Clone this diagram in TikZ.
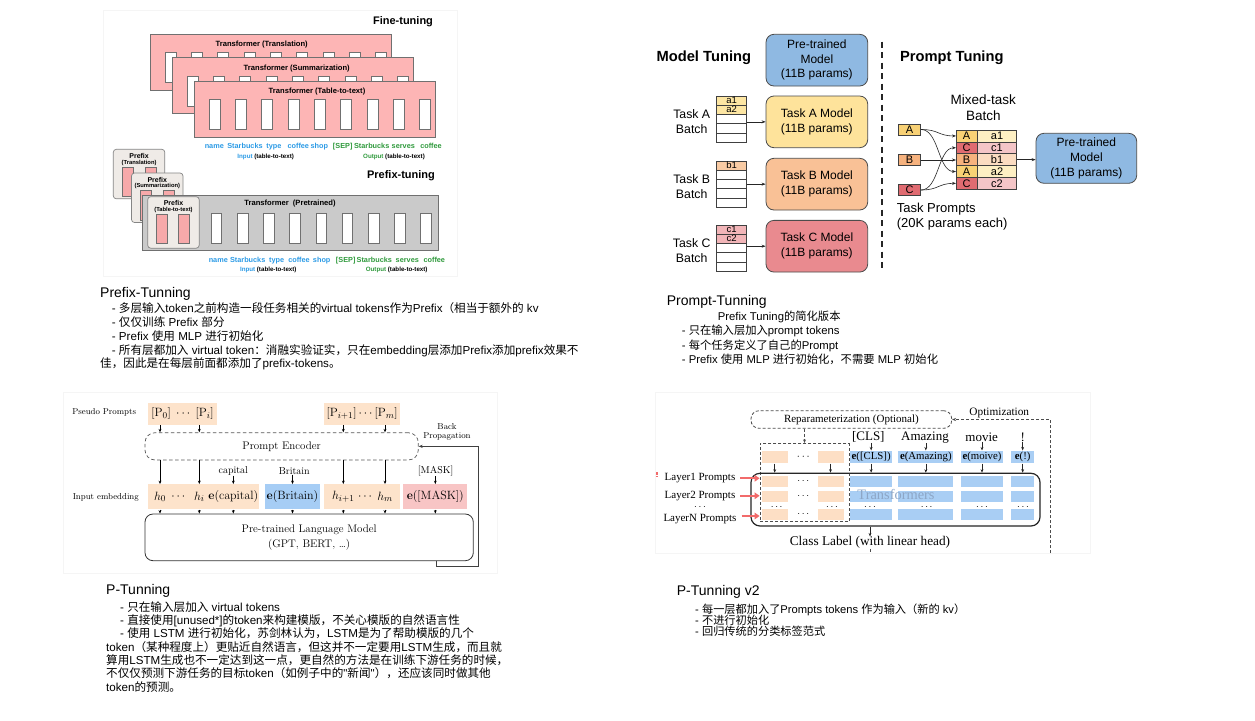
\documentclass[tikz,border=0pt]{standalone}
\usepackage[no-math]{fontspec}
\setsansfont{Liberation Sans}
\newfontfamily\latinfont{Liberation Sans}
\newfontfamily\cjkfont{Noto Sans CJK SC}
\newfontfamily\timesfont{Liberation Serif}
\usetikzlibrary{arrows.meta}

\newcount\cjkc
\newXeTeXintercharclass\mycjk
\def\setcjkrange#1#2{\cjkc=#1\relax
  \loop\XeTeXcharclass\cjkc=\mycjk\relax
  \ifnum\cjkc<#2\relax\advance\cjkc by 1\relax\repeat}
\setcjkrange{"3000}{"303F}
\setcjkrange{"4E00}{"9FFF}
\setcjkrange{"FF00}{"FFEF}
\XeTeXinterchartoks 0 \mycjk = {\cjkfont}
\XeTeXinterchartoks 4095 \mycjk = {\cjkfont}
\XeTeXinterchartoks \mycjk 0 = {\latinfont}
\XeTeXinterchartoks \mycjk 4095 = {\latinfont}
\XeTeXinterchartokenstate=1

\definecolor{pfpink}{HTML}{FDB5B5}
\definecolor{pfborder}{HTML}{707070}
\definecolor{pfgray}{HTML}{CACACA}
\definecolor{pfbeige}{HTML}{EFEBE7}
\definecolor{pfslot}{HTML}{F7A9AA}
\definecolor{wblue}{HTML}{2C9BE6}
\definecolor{wgreen}{HTML}{2F9A3C}
\definecolor{mblue}{HTML}{8FB9E2}
\definecolor{myel}{HTML}{FEE39B}
\definecolor{mora}{HTML}{F9C196}
\definecolor{mred}{HTML}{E98A8F}
\definecolor{rowA}{HTML}{FDE6A3}
\definecolor{rowB}{HTML}{F9CBA4}
\definecolor{rowC}{HTML}{F2B5B8}
\definecolor{kA}{HTML}{F8D175}
\definecolor{kB}{HTML}{F6B27E}
\definecolor{kC}{HTML}{E06B71}
\definecolor{lA}{HTML}{FDEFC3}
\definecolor{lB}{HTML}{FBDCC1}
\definecolor{lC}{HTML}{F4C5C7}
\definecolor{porange}{HTML}{FDE3CB}
\definecolor{pblue}{HTML}{A6CDF5}
\definecolor{ppink}{HTML}{F8C5C5}
\definecolor{vorange}{HTML}{FDDFC5}
\definecolor{vblue}{HTML}{A9CEF4}
\definecolor{vred}{HTML}{F26B6B}
\definecolor{vtext}{HTML}{8DA6C6}

\tikzset{
  frame/.style={draw=black!4, line width=.5pt},
  pfbold/.style={font=\sffamily\bfseries\fontsize{#1}{#1}\selectfont, inner sep=0},
  wordb/.style={font=\sffamily\bfseries\fontsize{#1}{#1}\selectfont, inner sep=0, anchor=base},
  mbox/.style={draw=black!70, line width=.8pt, rounded corners=8pt, minimum width=101.7pt,
     minimum height=51.7pt, align=center, font=\sffamily\fontsize{12}{15}\selectfont, inner sep=0},
  arr/.style={-{Stealth[length=4pt,width=3pt]}, line width=.6pt, black!85},
  cellL/.style={draw=black!75, line width=.6pt, minimum width=21.3pt, minimum height=11.86pt,
     inner sep=0, outer sep=0, font=\sffamily\fontsize{11}{11}\selectfont},
  cellR/.style={cellL, minimum width=39.4pt},
  pbx/.style={draw=black!75, line width=.6pt, minimum width=22.4pt, minimum height=11.3pt,
     inner sep=0, font=\sffamily\fontsize{11}{11}\selectfont},
  lmtext/.style={font=\rmfamily\fontsize{#1}{#1}\selectfont, inner sep=0},
  parr/.style={-{Stealth[length=3.5pt,width=2.8pt]}, line width=.6pt, black},
  tmtext/.style={font=\timesfont\fontsize{#1}{#1}\selectfont, inner sep=0},
  vdash/.style={dashed, dash pattern=on 3pt off 2pt, line width=.8pt, black!70},
  varr/.style={-{Stealth[length=3.5pt,width=2.8pt]}, line width=.6pt, black!85},
  redarr/.style={-{Triangle[length=5pt,width=6.5pt]}, line width=2.2pt, vred},
  txt/.style={anchor=base west, inner sep=0, font=\latinfont\fontsize{#1}{#1}\selectfont},
  ttl/.style={anchor=base west, inner sep=0, font=\latinfont\fontsize{14}{14}\selectfont},
}

\begin{document}
\begin{tikzpicture}[x=1pt,y=-1pt]
\path[use as bounding box, fill=white] (0,0) rectangle (1255,720);

% ================= Panel 1: Prefix-tuning =================
\draw[frame] (103,10) rectangle (457,276);
\node[pfbold=11] (ftt) at (403,22) {Fine-tuning};
\foreach \dx/\dy/\tx/\ty/\lab [count=\k] in {0/0/261.7/44.3/Translation, 22/23.5/296.7/68.3/Summarization, 44/47/317/91.7/Table-to-text}{
  \draw[pfborder, fill=pfpink, line width=.7pt] (150+\dx,34+\dy) rectangle ++(241,56);
  \node[pfbold=7.6] (tt\k) at (\tx,\ty) {Transformer (\lab)};
  \foreach \i in {0,...,8}
    \draw[pfborder, fill=white, line width=.6pt] (165+\dx+26.3*\i,52.3+\dy) rectangle ++(11,30);
}
\foreach \x/\w/\c [count=\k] in {214.3/name/wblue,245/Starbucks/wblue,274/type/wblue,298.3/coffee/wblue,319.3/shop/wblue,342.7/{[SEP]}/wgreen,371.7/Starbucks/wgreen,403.3/serves/wgreen,431/coffee/wgreen}
  \node[wordb=7.3, text=\c] (wa\k) at (\x,148.6) {\w};
\node[wordb=6.2] (inA) at (265.7,158.9) {\textcolor{wblue}{Input} (table-to-text)};
\node[wordb=6.2] (outA) at (394,158.9) {\textcolor{wgreen}{Output} (table-to-text)};
\node[pfbold=11] (ptt) at (401,176) {Prefix-tuning};

% prefix boxes 1 and 2
\foreach \px/\py/\lab [count=\k] in {113.3/149.3/Translation, 131.5/173/Summarization}{
  \draw[pfborder!85, fill=pfbeige, rounded corners=3pt, line width=.7pt] (\px,\py) rectangle ++(51.5,49.5);
  \draw[pfborder, fill=pfslot, line width=.5pt] (\px+9.2,\py+17.5) rectangle ++(11,29.5);
  \draw[pfborder, fill=pfslot, line width=.5pt] (\px+31.5,\py+17.5) rectangle ++(11,29.5);
  \node[pfbold=7] (pf\k) at (\px+25.8,\py+6.5) {Prefix};
  \node[pfbold=5.8] (pfs\k) at (\px+25.8,\py+13.3) {(\lab)};
}
% pretrained transformer
\draw[pfborder, fill=pfgray, line width=.7pt] (142.7,195) rectangle (438.3,250.7);
\node[pfbold=7.6] (ttp) at (290,204) {Transformer\ \ (Pretrained)};
\foreach \i in {0,...,8}
  \draw[pfborder, fill=white, line width=.6pt] (211+26.2*\i,213.3) rectangle ++(10.7,30);
% prefix box 3
\draw[pfborder!85, fill=pfbeige, rounded corners=3pt, line width=.7pt] (147.7,196.7) rectangle ++(51.5,51.5);
\draw[pfborder, fill=pfslot, line width=.5pt] (156.7,214) rectangle ++(11,29.3);
\draw[pfborder, fill=pfslot, line width=.5pt] (178.3,214) rectangle ++(11,29.3);
\node[pfbold=7] (pf3) at (173.5,202.7) {Prefix};
\node[pfbold=5.8] (pfs3) at (173.5,209.5) {(Table-to-text)};

\foreach \x/\w/\c [count=\k] in {218.3/name/wblue,247.7/Starbucks/wblue,276.7/type/wblue,299/coffee/wblue,321.7/shop/wblue,345.7/{[SEP]}/wgreen,374.3/Starbucks/wgreen,407.3/serves/wgreen,434.3/coffee/wgreen}
  \node[wordb=7.3, text=\c] (wb\k) at (\x,262.6) {\w};
\node[wordb=6.2] (inB) at (268.3,271.5) {\textcolor{wblue}{Input} (table-to-text)};
\node[wordb=6.2] (outB) at (396.7,271.5) {\textcolor{wgreen}{Output} (table-to-text)};

% ================= Text block 1 =================
\node[ttl] (t1) at (100,297.7) {Prefix-Tunning};
\node[txt=11.6] (t1a) at (111.7,312.7) {- 多层输入token之前构造一段任务相关的virtual tokens作为Prefix（相当于额外的 kv};
\node[txt=11.6] (t1b) at (111.7,326.7) {- 仅仅训练 Prefix 部分};
\node[txt=11.6] (t1c) at (111.7,340.4) {- Prefix 使用 MLP 进行初始化};
\node[txt=11.6] (t1d) at (111.7,354.4) {- 所有层都加入 virtual token：消融实验证实，只在embedding层添加Prefix添加prefix效果不};
\node[txt=11.6] (t1e) at (100,367.7) {佳，因此是在每层前面都添加了prefix-tokens。};

% ================= Panel 2: Prompt tuning =================
\node[font=\sffamily\bfseries\fontsize{14.7}{15}\selectfont, inner sep=0] (mtt) at (703.8,57.3) {Model Tuning};
\node[font=\sffamily\bfseries\fontsize{14.7}{15}\selectfont, inner sep=0] (prt) at (951.8,57.3) {Prompt Tuning};
\coordinate (dl1) at (882.3,41.7);
\coordinate (dl2) at (882.3,272);
\draw[black!85, line width=2pt, dash pattern=on 6pt off 4.5pt] (dl1) -- (dl2);

\node[mbox, fill=mblue, font=\sffamily\fontsize{12}{14.5}\selectfont] (mPre) at (816.85,60.15) {Pre-trained\\Model\\(11B params)};
\node[mbox, fill=myel] (mA) at (816.85,121.85) {Task A Model\\(11B params)};
\node[mbox, fill=mora] (mB) at (816.85,184.15) {Task B Model\\(11B params)};
\node[mbox, fill=mred] (mC) at (816.85,246.2) {Task C Model\\(11B params)};

\foreach \ty/\nm/\fa/\fb/\ta/\tb/\lab in {96/tA/rowA/rowA/a1/a2/A, 161/tB/rowB/white/b1/{}/B, 225/tC/rowC/rowC/c1/c2/C}{
  \node[minimum width=30pt, minimum height=46pt, inner sep=0, outer sep=0] (\nm) at (731.7,\ty+23) {};
  \draw[black!75, line width=.6pt, fill=\fa] (716.7,\ty) rectangle ++(30,9.2);
  \draw[black!75, line width=.6pt, fill=\fb] (716.7,\ty+9.2) rectangle ++(30,9.2);
  \foreach \i in {2,3,4}
    \draw[black!75, line width=.6pt] (716.7,\ty+9.2*\i) rectangle ++(30,9.2);
  \node[font=\sffamily\fontsize{9.5}{9.5}\selectfont, inner sep=0] (\nm r1) at (731.7,\ty+4.2) {\ta};
  \node[font=\sffamily\fontsize{9.5}{9.5}\selectfont, inner sep=0] (\nm r2) at (731.7,\ty+13.4) {\tb};
  \node[font=\sffamily\fontsize{12.3}{15}\selectfont, align=center, inner sep=0] (\nm l) at (691.7,\ty+25.8) {Task \lab\\Batch};
}
\draw[arr] (tA.east |- mA.west) -- (mA.west);
\draw[arr] (tB.east |- mB.west) -- (mB.west);
\draw[arr] (tC.east |- mC.west) -- (mC.west);

\node[font=\sffamily\fontsize{13.5}{15.7}\selectfont, align=center, inner sep=0] (mtb) at (983.3,107.8) {Mixed-task\\Batch};
\node[pbx, fill=kA] (pA) at (909.5,129.5) {A};
\node[pbx, fill=kB] (pB) at (909.5,160) {B};
\node[pbx, fill=kC] (pC) at (909.5,190) {C};
\foreach \y/\l/\r/\cl/\cr [count=\k] in {135.93/A/a1/kA/lA, 147.79/C/c1/kC/lC, 159.65/B/b1/kB/lB, 171.51/A/a2/kA/lA, 183.37/C/c2/kC/lC}{
  \node[cellL, fill=\cl] (mx\k) at (966.65,\y) {\l};
  \node[cellR, fill=\cr] (my\k) at (997,\y) {\r};
}
\draw[arr] (pA.east) .. controls +(18,0) and +(-18,0) .. (mx1.west);
\draw[arr] (pA.east) .. controls +(18,0) and +(-18,0) .. (mx4.west);
\draw[arr] (pB.east) -- (pB.east -| mx3.west);
\draw[arr] (pC.east) .. controls +(18,0) and +(-18,0) .. (mx2.west);
\draw[arr] (pC.east) .. controls +(18,0) and +(-18,0) .. (mx5.west);
\node[mbox, fill=mblue, minimum width=100.7pt, minimum height=50pt] (mPre2) at (1086.35,158.3) {Pre-trained\\Model\\(11B params)};
\draw[arr] (my3.east) -- (my3.east -| mPre2.west);
\node[font=\sffamily\fontsize{13}{15.7}\selectfont, align=left, anchor=north west, inner sep=0] (tpr) at (896.7,202.5) {Task Prompts\\(20K params each)};

% ================= Text block 2 =================
\node[ttl] (t2) at (666.7,305.7) {Prompt-Tunning};
\node[txt=11.3] (t2a) at (717.7,320.8) {Prefix Tuning的简化版本};
\node[txt=11.3] (t2b) at (681.7,334.8) {- 只在输入层加入prompt tokens};
\node[txt=11.3] (t2c) at (681.7,349.1) {- 每个任务定义了自己的Prompt};
\node[txt=11.3] (t2d) at (681.7,363.1) {- Prefix 使用 MLP 进行初始化，不需要 MLP 初始化};

% ================= Panel 3: P-tuning =================
\draw[frame] (63,392) rectangle (497,573);
\node[lmtext=8.6] (psl) at (104.2,412.7) {Pseudo Prompts};
\node[fill=porange, minimum width=68.4pt, minimum height=22.3pt, inner sep=0, font=\fontsize{12.5}{12.5}\selectfont] (pp1) at (182.5,413.85) {$[\mathrm{P}_0]\;\cdots\;[\mathrm{P}_i]$};
\node[fill=porange, minimum width=75.7pt, minimum height=22.3pt, inner sep=0, font=\fontsize{12.5}{12.5}\selectfont] (pp2) at (362.15,413.85) {$[\mathrm{P}_{i+1}]\cdots[\mathrm{P}_m]$};
\node[draw=black!65, dash pattern=on 3.5pt off 2.5pt, line width=.7pt, rounded corners=10pt, minimum width=273.3pt, minimum height=27.3pt, lmtext=11] (enc) at (281.65,446.35) {Prompt Encoder};
\node[lmtext=8.6, align=center] (bpl) at (447,432) {Back\\[1pt]Propagation};

\node[fill=porange, minimum width=111pt, minimum height=25pt, inner sep=0] (e1) at (203.8,496.8) {};
\node[fill=pblue, minimum width=55pt, minimum height=25pt, inner sep=0] (e2) at (292.5,496.8) {};
\node[fill=porange, minimum width=75.7pt, minimum height=25pt, inner sep=0] (e3) at (362.15,496.8) {};
\node[fill=ppink, minimum width=64pt, minimum height=25pt, inner sep=0] (e4) at (435.3,496.8) {};
\begin{scope}[every node/.style={font=\fontsize{12.5}{12.5}\selectfont, inner sep=0}]
\node (h0) at (160,496.8) {$h_0$};
\node (hd1) at (178.3,496.8) {$\cdots$};
\node (hi) at (199.3,496.8) {$h_i$};
\node (ecap) at (233.3,496.8) {$\mathbf{e}(\mathrm{capital})$};
\node (ebri) at (292.5,496.8) {$\mathbf{e}(\mathrm{Britain})$};
\node (hj) at (343.3,496.8) {$h_{i+1}$};
\node (hd2) at (365,496.8) {$\cdots$};
\node (hm) at (385,496.8) {$h_m$};
\node (emask) at (435.3,496.8) {$\mathbf{e}([\mathrm{MASK}])$};
\end{scope}
\node[lmtext=10] (lcap) at (233.3,471) {capital};
\node[lmtext=10] (lbri) at (294.3,471) {Britain};
\node[lmtext=10] (lmask) at (435.7,471) {[MASK]};
\node[lmtext=8.6] (iel) at (105.8,497.7) {Input embedding};
\node[draw=black!80, line width=.8pt, rounded corners=8pt, minimum width=328.3pt, minimum height=46.7pt, lmtext=11, align=center] (lm) at (309.15,537.35) {Pre-trained Language Model\\[4pt](GPT, BERT, \dots)};

\foreach \n in {h0,hi} \draw[parr] (\n |- pp1.south) -- (\n |- enc.north);
\foreach \n in {hj,hm} \draw[parr] (\n |- pp2.south) -- (\n |- enc.north);
\foreach \n/\b in {h0/e1,hi/e1,hj/e3,hm/e3} \draw[parr] (\n |- enc.south) -- (\n |- \b.north);
\draw[parr] (ecap |- lcap.south) -- (ecap |- e1.north);
\draw[parr] (ebri |- lbri.south) -- (ebri |- e2.north);
\draw[parr] (emask |- lmask.south) -- (emask |- e4.north);
\foreach \n/\b in {h0/e1,hi/e1,ecap/e1,ebri/e2,hj/e3,hm/e3,emask/e4} \draw[parr] (\n |- \b.south) -- (\n |- lm.north);
\coordinate (bp0) at (436.7,560.7);
\coordinate (bp1) at (436.7,566);
\coordinate (bp2) at (478.3,566);
\draw[-{Stealth[length=4pt,width=3.2pt]}, line width=.7pt, black!75] (bp0) -- (bp1) -- (bp2) -- (bp2 |- enc.east) -- (enc.east);

% ================= Text block 3 =================
\node[ttl] (t3) at (106,594) {P-Tunning};
\node[txt=11.6] (t3a) at (120,611) {- 只在输入层加入 virtual tokens};
\node[txt=11.6] (t3b) at (120,624.3) {- 直接使用[unused*]的token来构建模版，不关心模版的自然语言性};
\node[txt=11.6] (t3c) at (120,637.6) {- 使用 LSTM 进行初始化，苏剑林认为，LSTM是为了帮助模版的几个};
\node[txt=11.6] (t3d) at (106,651) {token（某种程度上）更贴近自然语言，但这并不一定要用LSTM生成，而且就};
\node[txt=11.6] (t3e) at (106,664.3) {算用LSTM生成也不一定达到这一点，更自然的方法是在训练下游任务的时候，};
\node[txt=11.6] (t3f) at (106,677.6) {不仅仅预测下游任务的目标token（如例子中的"新闻"），还应该同时做其他};
\node[txt=11.6] (t3g) at (106,691) {token的预测。};

% ================= Panel 4: P-tuning v2 =================
\draw[frame] (655,392) rectangle (1090,553);
\node[draw=black!70, dash pattern=on 3pt off 2pt, line width=.8pt, rounded corners=8pt, minimum width=200.7pt, minimum height=17.6pt, tmtext=11] (rep) at (851.35,419.5) {Reparameterization (Optional)};
\node[tmtext=11.3] (optl) at (999.3,413.3) {Optimization};
\node[draw=black!70, dash pattern=on 3pt off 2pt, line width=.8pt, minimum width=89pt, minimum height=78.4pt, inner sep=0] (pcol) at (804.5,482.5) {};
\coordinate (opt0) at (1050,553);
\draw[vdash, -{Stealth[length=4pt,width=3.2pt]}] (opt0) |- (rep.east);
\draw[vdash, -{Stealth[length=3.5pt,width=3pt]}] (pcol.north |- rep.south) -- (pcol.north);

\node[fill=vorange, minimum width=26pt, minimum height=12.6pt, inner sep=0] (to1) at (774.7,457) {};
\node[inner sep=0, font=\fontsize{11}{11}\selectfont] (tod) at (803.3,457) {$\cdots$};
\node[fill=vorange, minimum width=26pt, minimum height=12.6pt, inner sep=0] (to2) at (830.5,457) {};

\node[tmtext=13] (cls) at (868.3,437.3) {[CLS]};
\node[tmtext=13] (amz) at (925,437.3) {Amazing};
\node[tmtext=13] (mov) at (981.7,437.3) {movie};
\node[tmtext=13] (exc) at (1022.7,437.3) {!};
\node[fill=vblue, minimum width=42.3pt, minimum height=12.6pt, tmtext=10.8] (ecls) at (871.15,457) {\textbf{e}([CLS])};
\node[fill=vblue, minimum width=55pt, minimum height=12.6pt, tmtext=10.8] (eamz) at (925.8,457) {\textbf{e}(Amazing)};
\node[fill=vblue, minimum width=42.6pt, minimum height=12.6pt, tmtext=10.8] (emov) at (982,457) {\textbf{e}(moive)};
\node[fill=vblue, minimum width=23.3pt, minimum height=12.6pt, tmtext=10.8] (eexc) at (1022.65,457) {\textbf{e}(!)};
\foreach \t/\e in {cls/ecls,amz/eamz,mov/emov,exc/eexc}
  \draw[varr] (\e.north |- \t.south) -- (\e.north);

\node[draw=black!85, line width=1.2pt, rounded corners=9pt, minimum width=289pt, minimum height=52.7pt, inner sep=0] (trf) at (895.5,499.65) {};
\foreach \e in {to1,to2,ecls,eamz,emov,eexc}
  \draw[varr] (\e.south) -- (\e.south |- trf.north);
\foreach \ry in {476,491,509}{
  \fill[vorange] (761.7,\ry) rectangle (788.3,\ry+10.8);
  \fill[vorange] (818.3,\ry) rectangle (844.3,\ry+10.8);
  \fill[vblue] (850,\ry) rectangle (891.7,\ry+10.8);
  \fill[vblue] (898.3,\ry) rectangle (953.3,\ry+10.8);
  \fill[vblue] (960.7,\ry) rectangle (1003.3,\ry+10.8);
  \fill[vblue] (1011,\ry) rectangle (1034.3,\ry+10.8);
}
\foreach \x/\y [count=\k] in {803.3/481.4,803.3/496.4,803.3/514.4,776.7/507.5,832/507.5,870/507.5,926.7/507.5,982/507.5,1023/507.5}
  \node[inner sep=0, font=\fontsize{10}{10}\selectfont] (rd\k) at (\x,\y) {$\cdots$};
\node[tmtext=14.4, text=vtext] (trl) at (896,494.6) {Transformers};

\node[tmtext=11] (ly1) at (700,478.3) {Layer1 Prompts};
\node[tmtext=11] (ly2) at (700,495.8) {Layer2 Prompts};
\node[inner sep=0, font=\fontsize{10}{10}\selectfont] (lyd) at (700,507.6) {$\cdots$};
\node[tmtext=11] (lyn) at (700,518.6) {LayerN Prompts};
\draw[redarr] ([xshift=5pt]ly1.east) -- (ly1.east -| pcol.west);
\draw[redarr] ([xshift=5pt]ly2.east) -- (ly2.east -| pcol.west);
\draw[redarr] ([xshift=5pt]lyn.east |- 0,516) -- (pcol.west |- 0,516);
\fill[vred] (656,472.3) rectangle (657.6,474.6);
\fill[vred] (656,475.6) rectangle (657.6,477.4);

\node[tmtext=13.3] (clab) at (870,542.7) {Class Label (with linear head)};
\draw[varr] (trf.south -| clab.north) -- (clab.north);
\coordinate (clend) at (870,553.5);
\draw[vdash] (clab.south) -- (clend);

% ================= Text block 4 =================
\node[ttl] (t4) at (676.7,595) {P-Tunning v2};
\node[txt=11.2] (t4a) at (695,613.3) {- 每一层都加入了Prompts tokens 作为输入（新的 kv）};
\node[txt=11.2] (t4b) at (695,624.7) {- 不进行初始化};
\node[txt=11.2] (t4c) at (695,635.7) {- 回归传统的分类标签范式};
\end{tikzpicture}
\end{document}
